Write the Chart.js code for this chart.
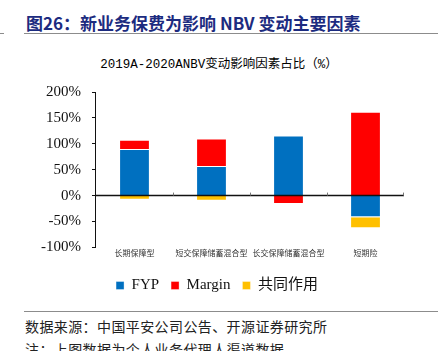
<!DOCTYPE html>
<html>
<head>
<meta charset="utf-8">
<script src="https://cdn.jsdelivr.net/npm/chart.js@4"></script>
<style>
  body { margin: 0; width: 438px; height: 351px; overflow: hidden; background: #fff; position: relative; }
  .title { position: absolute; left: 26px; top: 10px; font: bold 17px "Noto Sans CJK SC", sans-serif; color: #1c2b80; white-space: nowrap; }
  .rule { position: absolute; height: 1px; background: #8c8c8c; }
  .sub { position: absolute; left: 0; width: 438px; top: 53px; text-align: center; font: 12.5px "Liberation Mono", "Noto Sans CJK SC", monospace; color: #000; }
  .src { position: absolute; left: 25px; font: 14px "Noto Sans CJK SC", sans-serif; color: #222; white-space: nowrap; letter-spacing: 0.4px; }
  .warm { position: absolute; left: -999px; top: 0; font: 15px "Liberation Serif"; }
  #wrap { position: absolute; left: 0; top: 72px; width: 438px; height: 231px; }
</style>
</head>
<body>
<span class="warm">FYP 100%</span>
<div class="title">图26：新业务保费为影响 NBV 变动主要因素</div>
<div class="rule" style="left:0;width:4px;top:33px"></div>
<div class="rule" style="left:24px;width:414px;top:33px"></div>
<div class="sub">2019A-2020ANBV变动影响因素占比（%）</div>
<div id="wrap"><canvas id="myChart"></canvas></div>
<div class="rule" style="left:24px;width:414px;top:311px"></div>
<div class="src" style="top:316px">数据来源：中国平安公司公告、开源证券研究所</div>
<div class="src" style="top:339px">注：上图数据为个人业务代理人渠道数据</div>
<script>
const categories = ["长期保障型", "短交保障储蓄混合型", "长交保障储蓄混合型", "短期险"];
const fyp = [90, 57, 116, -42];
const margin = [18, 53, -16, 162];
const joint = [-8, -10, 0, -21];
const yTicks = [-100, -50, 0, 50, 100, 150, 200];

const serif = "'Liberation Serif', 'Times New Roman', 'Noto Sans CJK SC', serif";

// zero line and small category ticks drawn over the bars
const zeroLine = {
  id: "zeroLine",
  afterDatasetsDraw(chart) {
    const c = chart.ctx;
    const x = chart.scales.x;
    const area = chart.chartArea;
    const y0 = chart.scales.y.getPixelForValue(0);
    c.save();
    c.strokeStyle = "#111";
    c.lineWidth = 1.5;
    c.beginPath();
    c.moveTo(area.left, y0);
    c.lineTo(area.right, y0);
    c.stroke();
    c.strokeStyle = "#777";
    c.lineWidth = 1;
    for (let i = 0; i < categories.length; i++) {
      const px = i + 1 < categories.length
        ? Math.round((x.getPixelForValue(i) + x.getPixelForValue(i + 1)) / 2) + 0.5
        : area.right - 0.5;
      c.beginPath();
      c.moveTo(px, y0);
      c.lineTo(px, y0 - 3);
      c.stroke();
    }
    c.restore();
  },
};

function draw() {
  const ctx = document.getElementById("myChart");
  new Chart(ctx, {
    type: "bar",
    data: {
      labels: categories,
      datasets: [
        { label: "FYP", data: fyp, backgroundColor: "#0070c0", borderColor: "rgba(255,255,255,0.35)", borderWidth: 1 },
        { label: "Margin", data: margin, backgroundColor: "#ff0000", borderColor: "rgba(255,255,255,0.35)", borderWidth: 1 },
        { label: "共同作用", data: joint, backgroundColor: "#ffc000", borderColor: "rgba(255,255,255,0.35)", borderWidth: 1 },
      ],
    },
    options: {
      responsive: true,
      maintainAspectRatio: false,
      animation: false,
      categoryPercentage: 1,
      barPercentage: 0.4,
      layout: { padding: { left: 30, right: 34, top: 5, bottom: 0 } },
      plugins: {
        legend: {
          position: "bottom",
          labels: {
            boxWidth: 8,
            boxHeight: 8,
            padding: 12,
            color: "#111",
            font: { family: serif, size: 15 },
          },
        },
        tooltip: { enabled: false },
      },
      scales: {
        x: {
          stacked: true,
          grid: { display: false, drawTicks: false },
          border: { display: false },
          afterFit: (scale) => {
            scale.height += 7;
          },
          ticks: {
            maxRotation: 0,
            autoSkip: false,
            padding: 1,
            color: "#333",
            font: { family: "'Noto Sans CJK SC', sans-serif", size: 8 },
          },
        },
        y: {
          stacked: true,
          min: -100,
          max: 200,
          afterBuildTicks: (axis) => {
            axis.ticks = yTicks.map((v) => ({ value: v }));
          },
          grid: { color: "transparent", tickColor: "#111", tickLength: 4, drawOnChartArea: false },
          border: { display: true, color: "#111", width: 1 },
          ticks: {
            padding: 11,
            color: "#111",
            font: { family: serif, size: 15 },
            callback: (v) => v + "%",
          },
        },
      },
    },
    plugins: [zeroLine],
  });
}

if (document.fonts && document.fonts.load) {
  document.fonts.load("15px 'Liberation Serif'").then(draw, draw);
} else {
  draw();
}
</script>
</body>
</html>
